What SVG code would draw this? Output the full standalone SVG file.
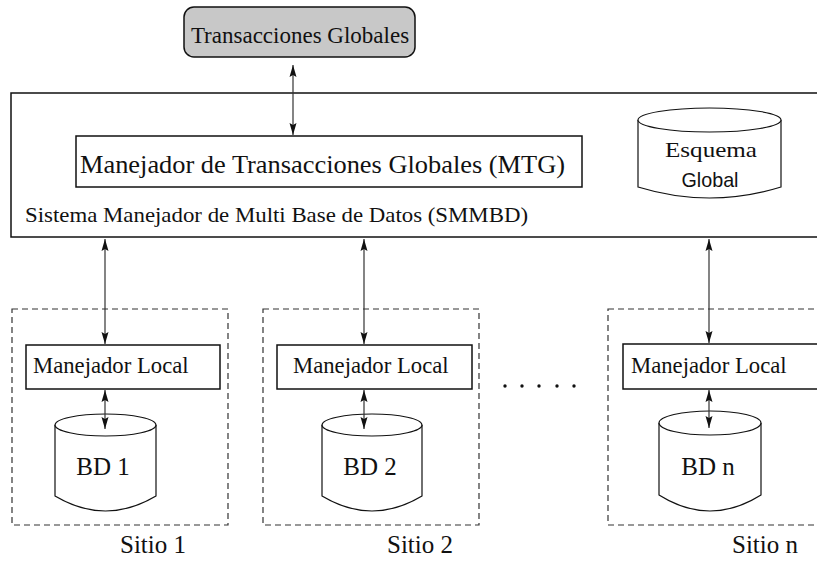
<svg xmlns="http://www.w3.org/2000/svg" width="817" height="561" viewBox="0 0 817 561">
<style>
.box{fill:#fff;stroke:#111;stroke-width:1.5}
.dash{fill:none;stroke:#333;stroke-width:1.2;stroke-dasharray:6 4}
.cyl{fill:#fff;stroke:#111;stroke-width:1.2}
.t{font-family:"Liberation Serif","Times New Roman",serif;fill:#111}
.conn{stroke:#333;stroke-width:1.2;fill:none;marker-start:url(#ah);marker-end:url(#ah)}
</style>
<defs>
<marker id="ah" viewBox="-13 -4 14 8" refX="0" refY="0" markerWidth="14" markerHeight="8" markerUnits="userSpaceOnUse" orient="auto-start-reverse">
<path d="M0,0 L-12,-3.5 L-10,0 L-12,3.5 z" fill="#111"/>
</marker>
</defs>
<rect width="817" height="561" fill="#fff"/>

<g id="transacciones-globales">
<rect x="184" y="7" width="231" height="50" rx="10" fill="#c8c8c8" stroke="#111" stroke-width="1.5"/>
<text class="t" x="300" y="43" font-size="23" text-anchor="middle">Transacciones Globales</text>
</g>

<g id="smmbd">
<rect class="box" x="11" y="93" width="830" height="144"/>
<text class="t" x="25" y="222" font-size="21" textLength="503" lengthAdjust="spacingAndGlyphs">Sistema Manejador de Multi Base de Datos (SMMBD)</text>
</g>

<g id="mtg">
<rect class="box" x="76" y="136" width="506" height="51"/>
<text class="t" x="80" y="173" font-size="25" textLength="485" lengthAdjust="spacingAndGlyphs">Manejador de Transacciones Globales (MTG)</text>
</g>

<g id="esquema-global">
<path class="cyl" d="M638,120 L638,187 Q709.5,209 781,187 L781,120"/>
<ellipse class="cyl" cx="709.5" cy="120" rx="71.5" ry="12"/>
<text class="t" x="711" y="157" font-size="22" text-anchor="middle" textLength="92" lengthAdjust="spacingAndGlyphs">Esquema</text>
<text x="710" y="187" font-size="21" text-anchor="middle" textLength="57" lengthAdjust="spacingAndGlyphs" font-family="Liberation Sans, Arial, sans-serif" fill="#111">Global</text>
</g>

<g id="sitio-1">
<rect class="dash" x="12" y="309" width="216" height="216"/>
<rect class="box" x="26" y="345" width="194" height="44"/>
<text class="t" x="33" y="373" font-size="22.7">Manejador Local</text>
<path class="cyl" d="M55,425 L55,496 Q105.5,526 156,496 L156,425"/>
<ellipse class="cyl" cx="105.5" cy="425" rx="50.5" ry="11"/>
<text class="t" x="103" y="475" font-size="25" text-anchor="middle">BD 1</text>
<text class="t" x="153" y="553" font-size="25" text-anchor="middle">Sitio 1</text>
</g>

<g id="sitio-2">
<rect class="dash" x="263" y="309" width="216" height="216"/>
<rect class="box" x="277" y="345" width="195" height="44"/>
<text class="t" x="293" y="373" font-size="22.7">Manejador Local</text>
<path class="cyl" d="M322,425 L322,496 Q372,526 422,496 L422,425"/>
<ellipse class="cyl" cx="372" cy="425" rx="50" ry="11"/>
<text class="t" x="370" y="475" font-size="25" text-anchor="middle">BD 2</text>
<text class="t" x="420" y="553" font-size="25" text-anchor="middle">Sitio 2</text>
</g>

<g id="puntos" fill="#111">
<circle cx="505" cy="386" r="1.7"/>
<circle cx="522" cy="386" r="1.7"/>
<circle cx="539" cy="386" r="1.7"/>
<circle cx="557" cy="386" r="1.7"/>
<circle cx="574" cy="386" r="1.7"/>
</g>

<g id="sitio-n">
<rect class="dash" x="608" y="309" width="240" height="216"/>
<rect class="box" x="623" y="344" width="220" height="45"/>
<text class="t" x="631" y="373" font-size="22.7">Manejador Local</text>
<path class="cyl" d="M659,423 L659,495 Q710,527 761,495 L761,423"/>
<ellipse class="cyl" cx="710" cy="423" rx="51" ry="12"/>
<text class="t" x="708" y="475" font-size="25" text-anchor="middle">BD n</text>
<text class="t" x="765" y="553" font-size="25" text-anchor="middle">Sitio n</text>
</g>

<g id="connectors">
<line class="conn" x1="293" y1="65" x2="293" y2="135"/>
<line class="conn" x1="105" y1="239" x2="105" y2="344"/>
<line class="conn" x1="364" y1="239" x2="364" y2="344"/>
<line class="conn" x1="709" y1="239" x2="709" y2="343"/>
<line class="conn" x1="105" y1="390" x2="105" y2="429"/>
<line class="conn" x1="364" y1="390" x2="364" y2="429"/>
<line class="conn" x1="709" y1="390" x2="709" y2="428"/>
</g>
</svg>
